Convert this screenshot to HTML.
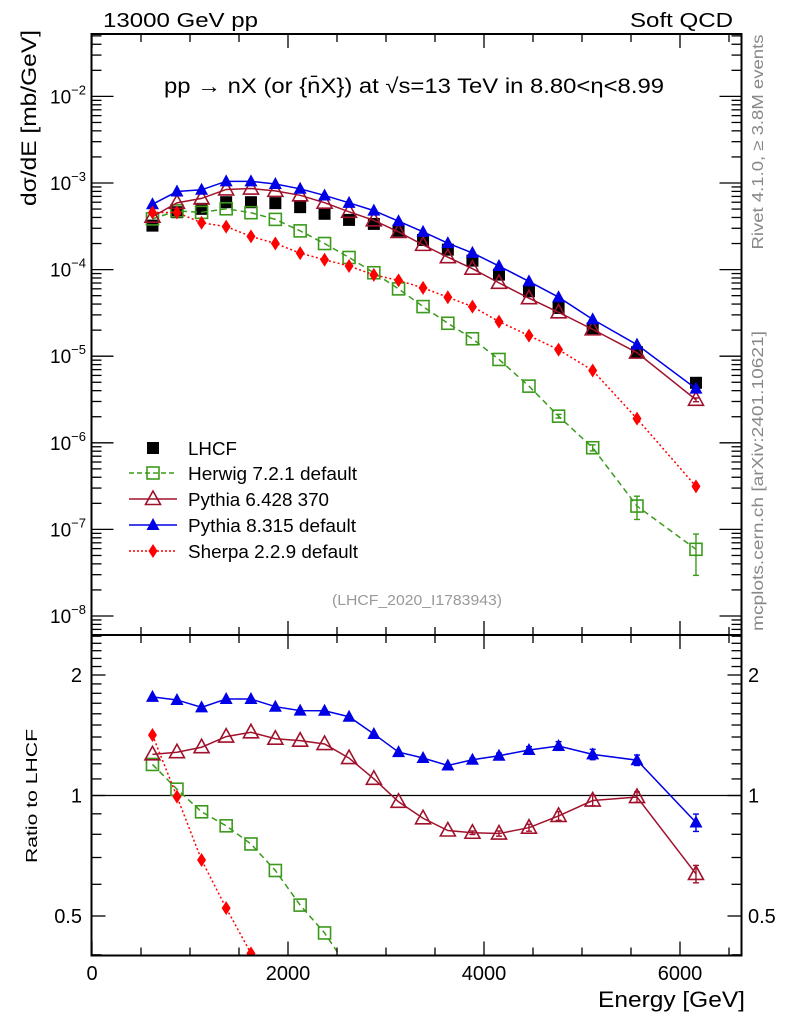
<!DOCTYPE html>
<html><head><meta charset="utf-8">
<style>
html,body{margin:0;padding:0;background:#fff;overflow:hidden;width:786px;height:1024px;}
svg{display:block;font-family:"Liberation Sans",sans-serif;}
</style></head>
<body>
<svg id="chart" width="786" height="1024" viewBox="0 0 786 1024" xmlns="http://www.w3.org/2000/svg">
<rect width="786" height="1024" fill="#fff"/>
<text x="103" y="27" font-size="20" textLength="155" lengthAdjust="spacingAndGlyphs">13000 GeV pp</text>
<text x="630" y="27" font-size="20" textLength="103" lengthAdjust="spacingAndGlyphs">Soft QCD</text>
<text x="164" y="93" font-size="21" textLength="500" lengthAdjust="spacingAndGlyphs">pp → nX (or {n̄X}) at √s=13 TeV in 8.80&lt;η&lt;8.99</text>
<text transform="translate(36,118) rotate(-90)" font-size="21" text-anchor="middle" textLength="176" lengthAdjust="spacingAndGlyphs">dσ/dE [mb/GeV]</text>
<text transform="translate(37,796) rotate(-90)" font-size="16" text-anchor="middle" textLength="134" lengthAdjust="spacingAndGlyphs">Ratio to LHCF</text>
<text x="598" y="1007" font-size="22" textLength="147" lengthAdjust="spacingAndGlyphs">Energy [GeV]</text>
<text transform="translate(763,142) rotate(-90)" font-size="16" fill="#888" text-anchor="middle" textLength="215" lengthAdjust="spacingAndGlyphs">Rivet 4.1.0, ≥ 3.8M events</text>
<text transform="translate(763,481) rotate(-90)" font-size="16" fill="#888" text-anchor="middle" textLength="300" lengthAdjust="spacingAndGlyphs">mcplots.cern.ch [arXiv:2401.10621]</text>
<text x="332" y="605" font-size="15" fill="#999" textLength="170" lengthAdjust="spacingAndGlyphs">(LHCF_2020_I1783943)</text>
<g id="main"></g><g id="ratio"></g><g id="axes"></g><g id="legend"></g>
</svg>
<script>
const energies=[617,867,1118,1369,1622,1871,2124,2373,2623,2876,3128,3378,3631,3882,4153,4459,4761,5109,5561,6163];
const lhcf=[3.22e-4,4.6e-4,5.03e-4,6.0e-4,6.0e-4,5.85e-4,5.26e-4,4.41e-4,3.75e-4,3.37e-4,2.82e-4,2.2e-4,1.70e-4,1.27e-4,8.75e-5,5.62e-5,3.61e-5,2.1e-5,1.11e-5,4.93e-6];
const herwig=[3.85e-4,4.77e-4,4.58e-4,5.04e-4,4.54e-4,3.80e-4,2.80e-4,2.0e-4,1.38e-4,9.2e-5,5.99e-5,3.74e-5,2.4e-5,1.59e-5,9.17e-6,4.51e-6,2.03e-6,8.77e-7,1.86e-7,5.89e-8];
const pythia6=[4.08e-4,5.90e-4,6.64e-4,8.42e-4,8.63e-4,8.11e-4,7.21e-4,5.93e-4,4.65e-4,3.71e-4,2.72e-4,1.93e-4,1.39e-4,1.025e-4,7.03e-5,4.67e-5,3.21e-5,2.04e-5,1.10e-5,3.14e-6];
const pythia8=[5.68e-4,7.97e-4,8.35e-4,1.045e-3,1.045e-3,9.75e-4,8.57e-4,7.18e-4,5.90e-4,4.80e-4,3.62e-4,2.73e-4,2.02e-4,1.56e-4,1.10e-4,7.30e-5,4.80e-5,2.66e-5,1.36e-5,4.22e-6];
const sherpa=[4.56e-4,4.57e-4,3.47e-4,3.14e-4,2.42e-4,2.0e-4,1.55e-4,1.30e-4,1.10e-4,8.7e-5,7.5e-5,6.15e-5,4.8e-5,3.74e-5,2.51e-5,1.73e-5,1.19e-5,6.84e-6,1.90e-6,3.14e-7];
const mcRelErr=[0,0,0,0,0,0,0,0,0,0,0,0,0,0.01,0.015,0.02,0.025,0.03,0.03,0.05];
const herwigRelErr=[0,0,0,0,0,0,0,0,0,0,0,0,0,0,0.02,0.03,0.05,0.08,0.3,0.5];
const xTicks=[0,2000,4000,6000];
const mainDecades=[-8,-7,-6,-5,-4,-3,-2];
const ratioTicks=[0.5,1,2];

const NS="http://www.w3.org/2000/svg";
const L=91.5,R=741.5,T=34,MB=635,RB=955.5;
const X0=92,XS=0.098;
function xs(e){return X0+e*XS;}
function ym(v){return 183-(Math.log10(v)+3)*86.6;}
function yr(r){return 795.5-Math.log2(r)*120.5;}
function el(tag,attrs,parent){const e=document.createElementNS(NS,tag);for(const k in attrs)e.setAttribute(k,attrs[k]);parent.appendChild(e);return e;}
const main=document.getElementById('main'),ratio=document.getElementById('ratio'),axes=document.getElementById('axes'),legend=document.getElementById('legend');

const defs=el('defs',{},document.getElementById('chart'));
const c1=el('clipPath',{id:'cm'},defs);el('rect',{x:L,y:T,width:R-L,height:MB-T},c1);
const c2=el('clipPath',{id:'cr'},defs);el('rect',{x:L,y:MB,width:R-L,height:RB-MB},c2);
main.setAttribute('clip-path','url(#cm)');ratio.setAttribute('clip-path','url(#cr)');

const series=[
 {name:'herwig',vals:herwig,err:herwigRelErr,color:'#3b9a1c',dash:'6,4',marker:'osq'},
 {name:'pythia6',vals:pythia6,err:mcRelErr,color:'#a0122c',dash:'',marker:'otri'},
 {name:'pythia8',vals:pythia8,err:mcRelErr,color:'#0000e6',dash:'',marker:'tri'},
 {name:'sherpa',vals:sherpa,err:mcRelErr,color:'#ff0000',dash:'2,2.5',marker:'dia'}
];
function marker(type,x,y,color,g,nm){
 let m;
 if(type==='osq'){m=el('rect',{x:x-6,y:y-6,width:12,height:12,fill:'none',stroke:color,'stroke-width':1.6},g);}
 else if(type==='otri'){m=el('polygon',{points:`${x},${y-8} ${x-7.5},${y+5.5} ${x+7.5},${y+5.5}`,fill:'none',stroke:color,'stroke-width':1.6},g);}
 else if(type==='tri'){m=el('polygon',{points:`${x},${y-7} ${x-6.5},${y+5} ${x+6.5},${y+5}`,fill:color},g);}
 else if(type==='dia'){m=el('polygon',{points:`${x},${y-7} ${x-4.5},${y} ${x},${y+7} ${x+4.5},${y}`,fill:color},g);}
 else if(type==='sq'){m=el('rect',{x:x-6,y:y-6,width:12,height:12,fill:'#000'},g);}
 
 
 return m;
}
function errbar(x,y1,y2,color,g){
 if(Math.abs(y2-y1)<3)return;
 el('line',{x1:x,y1:y1,x2:x,y2:y2,stroke:color,'stroke-width':1.4},g);
 el('line',{x1:x-3,y1:y1,x2:x+3,y2:y1,stroke:color,'stroke-width':1.4},g);
 el('line',{x1:x-3,y1:y2,x2:x+3,y2:y2,stroke:color,'stroke-width':1.4},g);
}
const ref=el('line',{x1:L,y1:yr(1),x2:R,y2:yr(1),stroke:'#000','stroke-width':1.2},ratio);


lhcf.forEach((v,i)=>{marker('sq',xs(energies[i]),ym(v),'#000',main,'lhcf-point');});
series.forEach(s=>{
 const gm=el('g',{},main);
 const gr=el('g',{},ratio);
 const pm=s.vals.map((v,i)=>xs(energies[i])+','+ym(v)).join(' ');
 const lm=el('polyline',{points:pm,fill:'none',stroke:s.color,'stroke-width':1.5,'stroke-dasharray':s.dash},gm);
 
 
 const rv=s.vals.map((v,i)=>v/lhcf[i]);
 const pr=rv.map((r,i)=>xs(energies[i])+','+yr(r)).join(' ');
 const lr=el('polyline',{points:pr,fill:'none',stroke:s.color,'stroke-width':1.5,'stroke-dasharray':s.dash},gr);
 
 
 s.vals.forEach((v,i)=>{const x=xs(energies[i]);const e=s.err[i];
  errbar(x,ym(v*(1+e)),ym(v*Math.max(1-e,0.05)),s.color,gm);
  marker(s.marker,x,ym(v),s.color,gm,s.name+'-point');
  const r=rv[i];errbar(x,yr(r*(1+e)),yr(r*(1-e)),s.color,gr);
  marker(s.marker,x,yr(r),s.color,gr,s.name+'-ratio-point');
 });
});
const f1=el('rect',{x:L,y:T,width:R-L,height:MB-T,fill:'none',stroke:'#000','stroke-width':2},axes);

const f2=el('rect',{x:L,y:MB,width:R-L,height:RB-MB,fill:'none',stroke:'#000','stroke-width':2},axes);

function tk(x1,y1,x2,y2){el('line',{x1,y1,x2,y2,stroke:'#000','stroke-width':1.3},axes);}
for(let e=0;e<=6500;e+=500){const x=xs(e);const maj=e%2000===0;const l=maj?14:8;
 tk(x,T,x,T+l);tk(x,MB,x,MB-l);tk(x,MB,x,MB+l);tk(x,RB,x,RB-l);}
xTicks.forEach(e=>{const t=el('text',{x:xs(e),y:980,'font-size':20,'text-anchor':'middle'},axes);t.textContent=e;
 });
for(let d=-9;d<=-2;d++){for(let k=1;k<10;k++){const v=k*Math.pow(10,d);const y=ym(v);if(y<T||y>MB)continue;
 const l=k===1?22:10;tk(L,y,L+l,y);tk(R,y,R-l,y);}}
mainDecades.forEach(d=>{const t=el('text',{x:86,y:ym(Math.pow(10,d))+7,'font-size':19,'text-anchor':'end'},axes);
 
 const a=el('tspan',{},t);a.textContent='10';const b=el('tspan',{dy:-9,'font-size':13},t);b.textContent='−'+(-d);});
for(let r=0.4;r<=2.55;r+=0.1){const rr=Math.round(r*10)/10;const y=yr(rr);if(y<MB||y>RB)continue;
 const maj=(rr===0.5||rr===1||rr===2);const l=maj?14:10;tk(L,y,L+l,y);tk(R,y,R-l,y);}
ratioTicks.forEach(r=>{const y=yr(r)+7;
 const t=el('text',{x:82,y:y,'font-size':20,'text-anchor':'end'},axes);t.textContent=r;
 
 const t2=el('text',{x:748,y:y,'font-size':20},axes);t2.textContent=r;
 });
const leg=[['LHCF','#000','','sq',false,49],['Herwig 7.2.1 default','#3b9a1c','5,3','osq',true,169],['Pythia 6.428 370','#a0122c','','otri',true,141],['Pythia 8.315 default','#0000e6','','tri',true,168],['Sherpa 2.2.9 default','#ff0000','2,2','dia',true,170]];
const ly=[448,473,499,525,551];
leg.forEach((l,i)=>{const g=el('g',{},legend);
 const y=ly[i];if(l[4])el('line',{x1:129,y1:y,x2:177,y2:y,stroke:l[1],'stroke-width':1.5,'stroke-dasharray':l[2]},g);
 marker(l[3],153,y,l[1],g,'legend-marker');
 const t=el('text',{x:188,y:y+7,'font-size':18,textLength:l[5],lengthAdjust:'spacingAndGlyphs'},g);t.textContent=l[0];});
</script>
</body></html>
